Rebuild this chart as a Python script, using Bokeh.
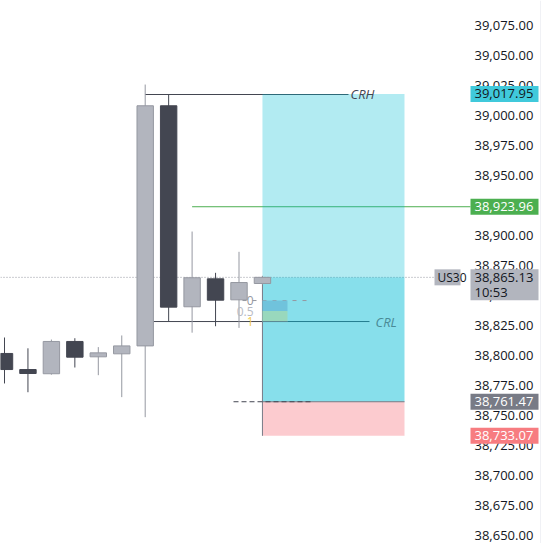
from bokeh.plotting import figure
from bokeh.models import FixedTicker, NumeralTickFormatter, ColumnDataSource, Span
from bokeh.core.properties import value
from bokeh.embed import file_html
from bokeh.resources import INLINE

# ---------------- data ----------------
idx = list(range(12))
opens = [38801.7, 38788.3, 38784.8, 38811.7, 38798.9, 38801.4, 38808.0, 39008.1, 38840.6, 38863.9, 38846.4, 38860.0]
closes = [38788.3, 38785.0, 38811.7, 38798.6, 38802.2, 38808.0, 39008.1, 38840.3, 38864.8, 38846.1, 38860.8, 38865.13]
highs = [38815.0, 38806.0, 38813.3, 38814.4, 38807.0, 38816.7, 39025.8, 39017.5, 38903.3, 38868.9, 38886.4, 38866.4]
lows = [38776.7, 38769.4, 38784.0, 38790.0, 38783.6, 38765.3, 38748.6, 38828.6, 38819.0, 38824.4, 38823.0, 38859.0]

price_ticks = [38650 + 25 * k for k in range(18)]
tp_price = 39017.95
entry_price = 38865.13
mark_price = 38761.47
sl_price = 38733.07
green_price = 38923.96
crh_price = 39017.5
crl_price = 38828.3
fib_levels = [38845.8, 38837.05, 38828.3]
fib_labels = ["0", "0.5", "1"]
fib_colors = ["#9598a1", "#b8bbc4", "#f2c94c"]
clock = "10:53"
symbol = "US30"
crh_text = "CRH"
crl_text = "CRL"

FONT = "Open Sans"
PXU = 1.2  # pixels per price unit


def ix(px):
    # pixel x -> bar index
    return (px - 4) / 23.45


def dy(px):
    # pixel height -> price units
    return px / PXU


p = figure(width=541, height=543,
           x_range=(ix(0), ix(541)), y_range=(39075 - 518 / PXU, 39075 + 25 / PXU),
           x_axis_type=None, y_axis_location="right",
           output_backend="svg", toolbar_location=None,
           min_border=0, outline_line_color=None,
           background_fill_color="white", border_fill_color="white")
p.ygrid.visible = False
ax = p.yaxis[0]
ax.fixed_location = ix(468)
ax.level = "underlay"
ax.ticker = FixedTicker(ticks=price_ticks)
ax.formatter = NumeralTickFormatter(format="0,0.00")
ax.axis_line_color = None
ax.major_tick_line_color = None
ax.minor_tick_line_color = None
ax.major_tick_out = 0
ax.major_tick_in = 0
ax.major_label_standoff = 6
ax.major_label_text_font = FONT
ax.major_label_text_font_size = "13px"
ax.major_label_text_color = "#131722"

p.add_layout(Span(location=ix(540.5), dimension="height",
                  line_color="#e0e3eb", line_width=1))

# ---- horizontal reference lines ----
p.segment(x0=ix(0), x1=ix(434), y0=entry_price, y1=entry_price,
          line_color="#9598a1", line_width=1, line_dash="1 2")
p.segment(x0=idx[6], x1=ix(348), y0=crh_price, y1=crh_price,
          line_color="#434651", line_width=1)
p.segment(x0=idx[6] + 0.35, x1=ix(369), y0=crl_price, y1=crl_price,
          line_color="#434651", line_width=1)
p.segment(x0=idx[8], x1=ix(470), y0=green_price, y1=green_price,
          line_color="#4caf50", line_width=1)

# ---- position tool ----
bl, br = idx[-1], ix(404)
p.quad(left=bl, right=br, bottom=entry_price, top=tp_price,
       fill_color="#00bcd4", fill_alpha=0.3, line_color=None)
p.quad(left=bl, right=br, bottom=mark_price, top=entry_price,
       fill_color="#00bcd4", fill_alpha=0.47, line_color=None)
p.quad(left=bl, right=br, bottom=sl_price, top=mark_price,
       fill_color="#f23645", fill_alpha=0.26, line_color=None)
p.segment(x0=bl, x1=bl, y0=entry_price, y1=sl_price,
          line_color="#787b86", line_width=1)
p.segment(x0=bl, x1=br, y0=mark_price, y1=mark_price,
          line_color="#787b86", line_width=1)
p.segment(x0=ix(233), x1=ix(310), y0=mark_price, y1=mark_price,
          line_color="#434651", line_width=1, line_dash="5 3")

# ---- fib ----
p.segment(x0=ix(242), x1=ix(310), y0=fib_levels[0], y1=fib_levels[0],
          line_color="#9598a1", line_width=1, line_dash="4 6")
p.quad(left=bl, right=ix(287), bottom=fib_levels[1], top=fib_levels[0],
       fill_color="#70c3dc", line_color=None)
p.quad(left=bl, right=ix(287), bottom=fib_levels[2], top=fib_levels[1],
       fill_color="#99d8bd", line_color=None)
p.segment(x0=bl, x1=ix(287), y0=crl_price, y1=crl_price,
          line_color="#5a8a94", line_width=1)

# ---- candles ----
up = [c >= o for o, c in zip(opens, closes)]
body_col = ["#b2b5be" if u else "#434651" for u in up]
edge_col = ["#9598a1" if u else "#434651" for u in up]
src = ColumnDataSource(dict(
    x=idx, high=highs, low=lows,
    top=[max(o, c) for o, c in zip(opens, closes)],
    bottom=[min(o, c) for o, c in zip(opens, closes)],
    fill=body_col, edge=edge_col))
p.segment(x0="x", x1="x", y0="low", y1="high", line_color="edge",
          line_width=1, source=src)
p.vbar(x="x", width=0.7, top="top", bottom="bottom", fill_color="fill",
       line_color="edge", line_width=1, source=src)

# ---- texts ----
p.text(x=[ix(350)], y=[crh_price], text=[crh_text], text_font=value(FONT),
       text_font_style="italic", text_font_size="13px", text_color="#434651",
       text_baseline="middle", text_align="left", y_offset=-1)
p.text(x=[ix(375)], y=[crl_price], text=[crl_text], text_font=value(FONT),
       text_font_style="italic", text_font_size="13px", text_color="#4a8a96",
       text_baseline="middle", text_align="left")
p.text(x=[ix(253)] * 3, y=fib_levels, text=fib_labels, text_font=value(FONT),
       text_font_size="12px", text_color=fib_colors,
       text_baseline="middle", text_align="right")

# ---- price scale tags ----
tag_l, tag_r, tag_tx = ix(470), ix(538), ix(474)


def tag(lines, y, bg, fg, left=tag_l, right=tag_r, tx=tag_tx, size="13px"):
    n = len(lines)
    p.quad(left=left, right=right, top=y + dy(8), bottom=y - dy(8 + 15 * (n - 1)),
           fill_color=bg, line_color=None)
    p.text(x=[tx] * n, y=[y - dy(15 * k) for k in range(n)], text=lines,
           text_font=value(FONT), text_font_size=size, text_color=fg,
           text_baseline="middle", text_align="left")


tag([f"{tp_price:,.2f}"], tp_price, "#40c9db", "#131722")
tag([f"{green_price:,.2f}"], green_price, "#4caf50", "#ffffff")
tag([f"{entry_price:,.2f}", clock], entry_price, "#b2b5be", "#131722")
tag([symbol], entry_price, "#b2b5be", "#131722", left=ix(434), right=ix(460),
    tx=ix(437), size="12px")
tag([f"{mark_price:,.2f}"], mark_price, "#787b86", "#ffffff")
tag([f"{sl_price:,.2f}"], sl_price, "#f77c80", "#ffffff")

open("out.html", "w").write(file_html(p, INLINE))
